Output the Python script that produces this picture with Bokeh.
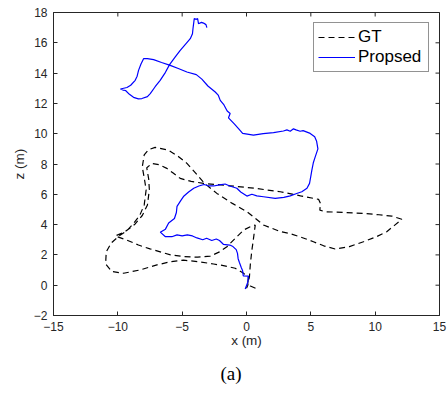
import math
from bokeh.plotting import figure
from bokeh.models import Range1d, FixedTicker, Legend, LegendItem, Title
from bokeh.embed import file_html
from bokeh.resources import INLINE

# ---- data ----
x_ticks = [-15, -10, -5, 0, 5, 10, 15]
z_ticks = [-2, 0, 2, 4, 6, 8, 10, 12, 14, 16, 18]

gt_x = [0.7, 0.3, 0.1, 0.15, -0.23, -0.88, -1.7, -2.56, -3.7, -4.9, -5.9, -6.96, -8.3, -9.55,
        -10.46, -10.95, -10.9, -10.5, -9.9, -9.3, -8.8, -8.3, -7.95, -7.8, -7.95, -8.1, -7.95,
        -7.6, -7.1, -6.06, -5.3, -4.63, -3.9, -3.3, -2.3, -1.1, 0.03, 0.7, 1.32, 2.6, 3.4, 4.3,
        5.2, 6.0, 6.89, 8.0, 9.09, 10.1, 10.9, 11.5, 12.07, 11.3, 10.3, 9.09, 7.6, 6.12, 5.7,
        5.75, 5.6, 4.2, 2.62, 0.6, -1.27, -3.34, -4.3, -5.15, -5.7, -6.19, -6.8, -7.35, -7.75,
        -7.6, -7.55, -7.7, -8.1, -8.7, -9.5, -10.2, -9.3, -8.4, -7.5, -5.9, -4.9, -3.8, -2.82,
        -2.1, -1.52, -0.75, -0.2, 0.29, 0.68, 0.5, 0.42, 0.3, 0.23, 0.1, 0.0]
gt_z = [-0.2, -0.05, 0.1, 0.5, 0.79, 1.12, 1.28, 1.4, 1.55, 1.65, 1.55, 1.34, 1.0, 0.79,
        0.9, 1.4, 2.2, 2.8, 3.25, 3.6, 4.05, 4.6, 5.3, 6.3, 7.1, 7.8, 8.6,
        8.95, 9.1, 8.91, 8.5, 8.04, 7.35, 6.75, 6.06, 5.4, 4.85, 4.4, 3.97, 3.55, 3.4, 3.15,
        2.87, 2.6, 2.39, 2.55, 2.87, 3.2, 3.53, 3.95, 4.35, 4.56, 4.65, 4.74, 4.8, 4.85, 4.96,
        5.4, 5.67, 5.9, 6.17, 6.4, 6.56, 6.72, 6.85, 7.05, 7.4, 7.71, 7.95, 8.04, 7.75,
        7.0, 6.3, 5.3, 4.6, 4.0, 3.5, 3.25, 2.98, 2.65, 2.4, 2.0, 1.89, 1.85, 1.92,
        2.2, 2.54, 3.2, 3.65, 3.86, 3.97, 2.8, 2.33, 1.4, 0.57, 0.0, -0.2]

est_x = [-0.1, 0.1, 0.15, -0.25, -0.3, -0.4, -0.55, -0.65, -0.7, -0.8, -1.05, -1.3, -1.8,
         -2.1, -2.35, -2.7, -3.1, -3.4, -3.85, -4.2, -4.6, -5.0, -5.4, -5.8, -6.3, -6.7, -6.3,
         -6.05, -5.6, -5.45, -5.4, -5.1, -4.9, -4.5, -4.1, -3.7, -3.3, -2.9, -2.55, -2.1,
         -1.66, -1.3, -0.75, -0.45, 0.03, 0.42, 0.8, 1.32, 2.23, 2.9, 3.4, 3.9, 4.3, 4.7, 4.9,
         5.0, 5.08, 5.2, 5.34, 5.55, 5.45, 5.3, 4.95, 4.4, 4.17, 3.85, 3.65, 3.4, 3.14, 2.87,
         2.1, 1.3, 0.54, -0.3, -0.62, -0.95, -1.4, -1.27, -1.5, -1.75, -2.04, -2.2, -2.43,
         -3.0, -3.47, -3.9, -4.63, -5.3, -5.93, -6.6, -7.22, -7.7, -8.0, -8.2, -8.39, -8.5,
         -8.65, -9.0, -9.29, -9.8, -9.6, -9.4, -9.1, -8.78, -8.4, -8.13, -7.7, -7.48, -7.1,
         -6.71, -6.3, -5.98, -5.55, -5.15, -4.7, -4.37, -4.2, -4.16, -4.06, -3.9, -3.8, -3.73,
         -3.5, -3.34, -3.15, -3.08]
est_z = [-0.25, 0.2, 0.6, 0.62, 0.95, 1.15, 1.5, 1.75, 2.1, 2.35, 2.55, 2.65, 2.7,
         2.95, 3.05, 2.95, 3.1, 3.0, 3.12, 3.25, 3.32, 3.25, 3.32, 3.2, 3.2, 3.5, 3.7,
         4.1, 4.4, 4.8, 5.2, 5.6, 5.85, 6.15, 6.4, 6.55, 6.65, 6.55, 6.55, 6.62,
         6.68, 6.55, 6.4, 6.15, 5.88, 6.0, 5.9, 5.84, 5.73, 5.8, 5.9, 6.05, 6.17, 6.4, 6.72,
         7.2, 7.6, 8.1, 8.47, 9.0, 9.5, 9.8, 10.02, 10.2, 10.16, 10.25, 10.32, 10.16, 10.25, 10.18,
         10.07, 10.0, 9.9, 10.02, 10.34, 10.65, 11.05, 11.33, 11.5, 11.9, 12.2, 12.55, 12.75,
         13.15, 13.6, 13.9, 14.07, 14.3, 14.51, 14.7, 14.89, 14.95, 14.95, 14.6, 14.18, 13.8,
         13.52, 13.2, 13.05, 12.95, 12.88, 12.85, 12.6, 12.4, 12.3, 12.32, 12.45, 12.65, 13.1,
         13.52, 14.05, 14.56, 15.05, 15.5, 15.95, 16.27, 16.6, 16.93, 17.6, 17.55, 17.6, 17.26,
         17.35, 17.3, 17.2, 17.0]

AX = "#262626"
FONT = "Liberation Sans"

p = figure(width=447, height=393, output_backend="svg", toolbar_location=None,
           x_range=Range1d(x_ticks[0], x_ticks[-1]), y_range=Range1d(z_ticks[0], z_ticks[-1]),
           min_border_left=53, min_border_right=8, min_border_top=12, min_border_bottom=77,
           background_fill_color="white", border_fill_color="white")
p.grid.visible = False
p.outline_line_color = AX

r_gt = p.line(gt_x, gt_z, line_color="black", line_width=1.2, line_dash="6 4")
r_est = p.line(est_x, est_z, line_color="#0000ff", line_width=1.2)

# mirrored inward ticks on the top and right edges (clipped to the frame)
p.scatter(x=x_ticks, y=[z_ticks[-1]] * len(x_ticks), marker="dash", angle=math.pi / 2,
          size=8, line_color=AX, line_width=1)
p.scatter(x=[x_ticks[-1]] * len(z_ticks), y=z_ticks, marker="dash",
          size=8, line_color=AX, line_width=1)

def style_axis(ax, ticks):
    ax.ticker = FixedTicker(ticks=ticks)
    ax.major_tick_in = 4
    ax.major_tick_out = 0
    ax.minor_tick_line_color = None
    ax.axis_line_color = AX
    ax.major_tick_line_color = AX
    ax.major_label_text_color = AX
    ax.major_label_text_font = FONT
    ax.major_label_text_font_size = "12px"
    ax.axis_label_text_font = FONT
    ax.axis_label_text_font_size = "13.5px"
    ax.axis_label_text_font_style = "normal"
    ax.axis_label_text_color = AX

style_axis(p.xaxis[0], x_ticks)
style_axis(p.yaxis[0], z_ticks)
p.xaxis[0].axis_label = "x (m)"
p.yaxis[0].axis_label = "z (m)"
p.xaxis[0].major_label_standoff = 6
p.xaxis[0].axis_label_standoff = -1
p.yaxis[0].major_label_standoff = 6
p.yaxis[0].axis_label_standoff = 4

legend = Legend(items=[LegendItem(label="GT", renderers=[r_gt]),
                       LegendItem(label="Propsed", renderers=[r_est])],
                location="top_right", margin=10, padding=4, spacing=0,
                glyph_width=37, glyph_height=20, label_height=20, label_width=66,
                label_standoff=3, label_text_font=FONT, label_text_font_size="17px",
                label_text_color="black", border_line_color=AX, border_line_width=1,
                background_fill_color="white", background_fill_alpha=1)
p.add_layout(legend)

cap = Title(text="(a)", align="left", offset=167, standoff=20, text_font="Liberation Serif",
            text_font_size="19px", text_font_style="normal", text_color="black")
p.add_layout(cap, "below")

open("out.html", "w").write(file_html(p, INLINE))
